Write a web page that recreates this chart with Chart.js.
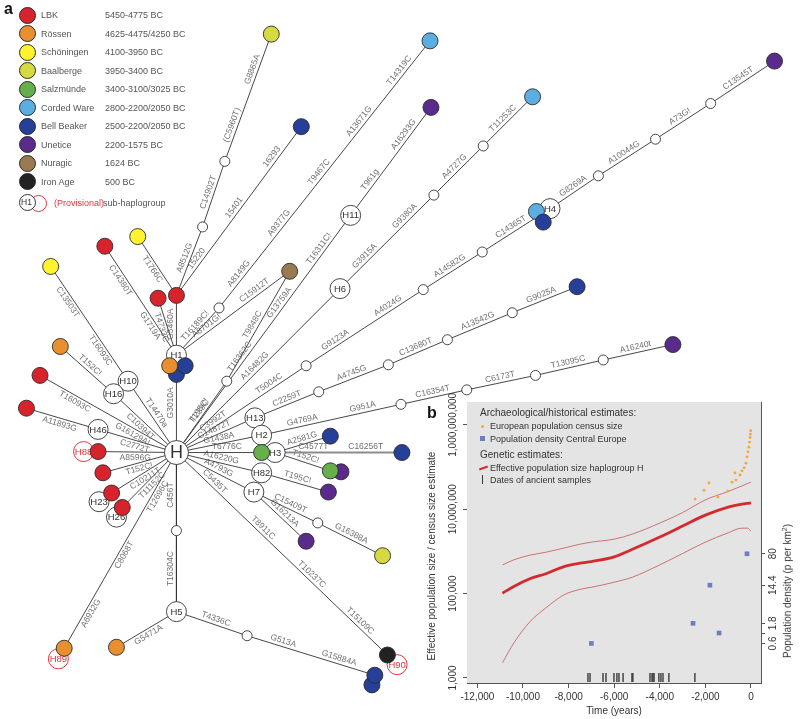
<!DOCTYPE html>
<html>
<head>
<meta charset="utf-8">
<title>Haplogroup H network and population size</title>
<script src="https://cdn.jsdelivr.net/npm/chart.js@4.4.1/dist/chart.umd.min.js"></script>
<style>
  body { margin: 0; background: #fff; }
  #page { position: relative; width: 800px; height: 719px; overflow: hidden; font-family: "Liberation Sans", Arial, sans-serif; color: #444; }
  canvas { position: absolute; }
  #net { left: 0; top: 0; }
  #popb { left: 400px; top: 390px; }
  .t { position: absolute; white-space: nowrap; transform: translateY(-50%); line-height: 1; }
  .rot { position: absolute; white-space: nowrap; line-height: 1; transform: translate(-50%, -50%) rotate(-90deg); }
  .dot { position: absolute; border-radius: 50%; box-sizing: border-box; }
</style>
</head>
<body>
<div id="page">
  <canvas id="net" width="800" height="719"></canvas>
  <canvas id="popb" width="400" height="329"></canvas>
  <div id="overlay"></div>
</div>
<script>
// ---------- panel a: cultures ----------
const cultures = ['LBK', 'Rössen', 'Schöningen', 'Baalberge', 'Salzmünde', 'Corded Ware', 'Bell Beaker', 'Unetice', 'Nuragic', 'Iron Age'];
const cultureDates = ['5450-4775 BC', '4625-4475/4250 BC', '4100-3950 BC', '3950-3400 BC', '3400-3100/3025 BC',
  '2800-2200/2050 BC', '2500-2200/2050 BC', '2200-1575 BC', '1624 BC', '500 BC'];
const cultureColors = ['#d8232c', '#e8902f', '#fff22e', '#d5da40', '#66b04b', '#5caee2', '#263f98', '#5a2a8c', '#9a7a50', '#222222'];

// ---------- panel a: network nodes (x, y in drawing units) ----------
const hubs = [['H', 169, 456], ['H1', 169, 355], ['H10', 119, 382], ['H16', 104, 395], ['H46', 88, 432],
  ['H23', 89, 507], ['H26', 107, 523], ['H11', 349, 210], ['H6', 338, 286], ['H4', 555, 203], ['H13', 250, 420],
  ['H2', 257, 438], ['H3', 271, 456], ['H82', 257, 477], ['H7', 249, 497], ['H5', 169, 621]];
const provisional = [['H88', 73, 455], ['H89', 47, 670], ['H90', 397, 676]];
const medians = [['m1', 196, 222], ['m2', 219, 154], ['m3', 213, 306], ['m4', 221, 382], ['m5', 435, 189],
  ['m6', 486, 138], ['m7', 303, 366], ['m8', 424, 287], ['m9', 485, 248], ['m10', 605, 169], ['m11', 664, 131],
  ['m12', 721, 94], ['m13', 316, 393], ['m14', 388, 365], ['m15', 449, 339], ['m16', 516, 311], ['m17', 401, 406],
  ['m18', 469, 391], ['m19', 540, 376], ['m20', 610, 360], ['m21', 315, 529], ['m22', 169, 537], ['m23', 242, 646]];
// id, x, y, culture index
const samples = [['s1', 267, 22, 3], ['s2', 298, 118, 6], ['s3', 431, 29, 5], ['s4', 432, 98, 7], ['s5', 537, 87, 5],
  ['s6', 787, 50, 7], ['s7', 541, 206, 5], ['s8', 548, 217, 6], ['s9', 129, 232, 2], ['s10', 95, 242, 0],
  ['s11', 39, 263, 2], ['s12', 150, 296, 0], ['s13', 169, 293, 0], ['s14', 286, 268, 8], ['s17', 169, 375, 6],
  ['s16', 178, 366, 6], ['s15', 162, 366, 1], ['s18', 49, 346, 1], ['s19', 28, 376, 0], ['s20', 14, 410, 0],
  ['s21', 88, 455, 0], ['s22', 93, 477, 0], ['s23', 102, 498, 0], ['s24', 113, 513, 0], ['s25', 257, 456, 4],
  ['s26', 583, 284, 6], ['s27', 682, 344, 7], ['s28', 328, 439, 6], ['s29', 402, 456, 6], ['s31', 339, 476, 7],
  ['s30', 328, 475, 4], ['s32', 326, 497, 7], ['s33', 303, 548, 7], ['s34', 382, 563, 3], ['s35', 387, 666, 9],
  ['s36', 107, 658, 1], ['s37', 53, 659, 1], ['s39', 371, 697, 6], ['s38', 374, 687, 6]];

// from, to, mutations (in order from -> to), label side (1 above, -1 below), grey line
const edges = [
  ['H', 'H1', ['G3010A'], 1], ['H1', 's13', ['G5460A'], 1], ['s13', 'm1', ['A8512G'], 1],
  ['m1', 'm2', ['C14902T'], 1], ['m2', 's1', ['(C5960T)', 'G8865A'], 1],
  ['s13', 's2', ['15220', '15401', '16293'], 1], ['s9', 's13', ['T1766C'], -1], ['s12', 'H1', ['T4733C'], -1],
  ['s10', 'H1', ['C14380T', 'G1719A'], -1], ['H1', 'm3', ['T16189C!'], 1],
  ['m3', 's3', ['A8149G', 'A9377G', 'T9467C', 'A13671G', 'T14319C'], 1],
  ['H1', 's14', ['A8701G!', 'C15912T'], 1], ['H', 'm4', ['T195C!'], 1], ['m4', 's14', ['T9848C'], 1],
  ['H', 'H11', ['T239C', 'T16362C', 'G13759A', 'T16311C!'], 1], ['H11', 's4', ['T961g', 'A16293G'], 1],
  ['H', 'H6', ['A16482G'], 1], ['H6', 'm5', ['G3915A', 'G9380A'], 1], ['m5', 'm6', ['A4727G'], 1],
  ['m6', 's5', ['T11253C'], 1], ['H', 'm7', ['C3992T', 'T5004C'], 1], ['m7', 'm8', ['G9123A', 'A4024G'], 1],
  ['m8', 'm9', ['A14582G'], 1], ['m9', 'H4', ['C14365T'], 1], ['H4', 'm10', ['G8269A'], 1],
  ['m10', 'm11', ['A10044G'], 1], ['m11', 'm12', ['A73G!'], 1], ['m12', 's6', ['C13545T'], 1],
  ['H', 'H13', ['C14872T'], 1], ['H13', 'm13', ['C2259T'], 1], ['m13', 'm14', ['A4745G'], 1],
  ['m14', 'm15', ['C13680T'], 1], ['m15', 'm16', ['A13542G'], 1], ['m16', 's26', ['G9025A'], 1],
  ['H', 'H2', ['G1438A'], 1], ['H2', 'm17', ['G4769A', 'G951A'], 1], ['m17', 'm18', ['C16354T'], 1],
  ['m18', 'm19', ['C6173T'], 1], ['m19', 'm20', ['T13095C'], 1], ['m20', 's27', ['A16240t'], 1],
  ['H', 'H3', ['T6776C'], 1], ['H3', 's29', ['C4577T', 'C16256T'], 1, true], ['H3', 's28', ['A2581G'], 1],
  ['H3', 's30', ['T152C!'], 1], ['H', 'H82', ['A16220G'], 1], ['H82', 's32', ['T195C!'], 1],
  ['H', 'H7', ['A4793G'], 1], ['H7', 'm21', ['C15409T'], 1], ['m21', 's34', ['G16388A'], 1],
  ['H7', 's33', ['G16213A'], 1], ['H', 's35', ['C5435T', 'T8911C', 'T10237C', 'T15109C'], 1],
  ['H', 'm22', ['C456T'], 1], ['m22', 'H5', ['T16304C'], 1], ['H5', 's36', ['G5471A'], -1],
  ['H5', 'm23', ['T4336C'], 1], ['m23', 's38', ['G513A', 'G15884A'], 1],
  ['H', 's37', ['T12696C', 'C8068T', 'A6932G'], -1], ['H', 's22', ['T152C!'], -1],
  ['H', 's23', ['C10211T'], -1], ['H', 's24', ['T11152C'], -1], ['H', 's21', ['A8596G'], -1],
  ['H', 'H46', ['C2772T'], -1], ['H46', 's20', ['A11893G'], -1], ['H', 'H16', ['C10394T'], -1],
  ['s18', 'H16', ['T152C!'], 1], ['H', 'H10', ['T14470a'], 1], ['s11', 'H10', ['C13503T', 'T16093C'], -1],
  ['s19', 'H', ['T16093C', 'G16129A!'], -1]
];

// ---------- panel b data ----------
const neTime = [-10900, -10400, -9700, -9000, -8200, -7500, -7000, -6000, -5200, -4000, -3000, -2000, -1000, -400, -150, 0];
const neMedian = [1.02e5, 1.48e5, 2.24e5, 2.95e5, 4.37e5, 5.25e5, 5.75e5, 7.41e5, 1.12e6, 2.19e6, 3.98e6, 7.24e6, 1.12e7, 1.32e7, 1.38e7, 1.41e7];
const neUpper = [4.79e5, 6.31e5, 8.13e5, 9.55e5, 1.2e6, 1.48e6, 1.66e6, 1.95e6, 2.57e6, 4.68e6, 8.32e6, 1.66e7, 2.63e7, 3.55e7, 4.07e7, 4.37e7];
const neLower = [2.29e3, 6.76e3, 2.14e4, 4.57e4, 9.33e4, 1.26e5, 1.41e5, 1.86e5, 2.45e5, 4.79e5, 8.91e5, 1.66e6, 2.75e6, 3.55e6, 3.55e6, 3.02e6];
const censusTime = [-2450, -2060, -1840, -1450, -1010, -830, -700, -660, -480, -400, -300, -220, -170, -130, -90, -60, -40, -25, -10];
const censusSize = [1.74e7, 2.82e7, 4.17e7, 1.95e7, 2.69e7, 4.37e7, 7.24e7, 4.9e7, 6.46e7, 8.13e7, 9.55e7, 1.23e8, 1.74e8, 2.29e8, 2.95e8, 3.89e8, 5.01e8, 6.03e8, 7.24e8];
const densityTime = [-7000, -2540, -1800, -1400, -175];
const density = [0.6, 1.8, 14.4, 1.06, 80];
const sampleDates = [-7150, -7060, -6490, -6360, -6010, -5880, -5790, -5610, -5220, -5180, -4430, -4340, -4300, -4250, -4040, -3950, -3860, -3600, -2460];
const timeTicks = [-12000, -10000, -8000, -6000, -4000, -2000, 0];
const censusTicks = [1e3, 1e5, 1e7, 1e9];
const censusTickLabels = ['1,000', '100,000', '10,000,000', '1,000,000,000'];
const densityTicks = [0.6, 1.06, 1.8, 14.4, 80];
const densityTickLabels = ['0.6', '', '1.8', '14.4', '80'];

const FONT = '"Liberation Sans", Arial, sans-serif';
Chart.defaults.font.family = FONT;

// ---------- html text ----------
const overlay = document.getElementById('overlay');
function txt(s, x, y, size, color, css) {
  const d = document.createElement('div');
  d.className = 't';
  d.innerHTML = s;
  d.style.left = x + 'px';
  d.style.top = y + 'px';
  d.style.fontSize = size + 'px';
  d.style.color = color;
  if (css) Object.assign(d.style, css);
  overlay.appendChild(d);
  return d;
}
function circle(x, y, r, fill, border) {
  const d = document.createElement('div');
  d.className = 'dot';
  Object.assign(d.style, { left: (x - r) + 'px', top: (y - r) + 'px', width: 2 * r + 'px', height: 2 * r + 'px',
    background: fill, border: border });
  overlay.appendChild(d);
  return d;
}

txt('a', 4, 9, 16, '#111', { fontWeight: 'bold' });
cultures.forEach((c, i) => {
  const y = 15 + i * 18.5;
  circle(27, y, 8.5, cultureColors[i], '1px solid #2a2a2a');
  txt(c, 41, y, 9, '#555');
  txt(cultureDates[i], 105, y, 9, '#555');
});
circle(38, 203, 8.5, 'transparent', '1px solid #e0353d');
circle(27, 202, 8.5, '#fff', '1px solid #333');
txt('H1', 21, 202, 8.5, '#333');
txt('(Provisional)', 54, 203, 9, '#e0353d');
txt('sub-haplogroup', 103, 203, 9, '#555');

// ---------- network chart ----------
const nodes = {};
hubs.forEach(([id, x, y]) => { nodes[id] = { x, y, r: id === 'H' ? 12 : 10 }; });
provisional.forEach(([id, x, y]) => { nodes[id] = { x, y, r: 10 }; });
medians.forEach(([id, x, y]) => { nodes[id] = { x, y, r: 5 }; });
samples.forEach(([id, x, y]) => { nodes[id] = { x, y, r: 8 }; });

const edgeSets = edges.map(([a, b, labels, side, grey]) => ({
  data: [{ x: nodes[a].x, y: nodes[a].y }, { x: nodes[b].x, y: nodes[b].y }],
  showLine: true, pointRadius: 0, borderColor: grey ? '#8c8c8c' : '#333', borderWidth: grey ? 2 : 0.9,
  order: 10, edgeLabels: labels, side: side, r0: nodes[a].r, r1: nodes[b].r
}));

const netText = {
  id: 'netText',
  afterDatasetDraw(chart, args) {
    const ds = chart.data.datasets[args.index];
    const ctx = chart.ctx, sx = chart.scales.x, sy = chart.scales.y;
    if (ds.edgeLabels) {
      const x0 = sx.getPixelForValue(ds.data[0].x), y0 = sy.getPixelForValue(ds.data[0].y);
      const x1 = sx.getPixelForValue(ds.data[1].x), y1 = sy.getPixelForValue(ds.data[1].y);
      const dx = x1 - x0, dy = y1 - y0, len = Math.hypot(dx, dy);
      let ang = Math.atan2(dy, dx);
      if (ang > Math.PI / 2 - 0.01) ang -= Math.PI;
      if (ang < -Math.PI / 2 - 0.01) ang += Math.PI;
      const start = ds.r0 + 2, span = len - ds.r0 - ds.r1 - 4;
      ctx.save();
      ctx.font = '8.5px ' + FONT;
      ctx.fillStyle = '#707070';
      ctx.textAlign = 'center';
      ctx.textBaseline = ds.side > 0 ? 'bottom' : 'top';
      ds.edgeLabels.forEach((lab, i) => {
        const d = start + span * (i + 0.5) / ds.edgeLabels.length;
        ctx.save();
        ctx.translate(x0 + dx / len * d, y0 + dy / len * d);
        ctx.rotate(ang);
        ctx.fillText(lab, 0, ds.side > 0 ? -1.5 : 1.5);
        ctx.restore();
      });
      ctx.restore();
    }
    if (ds.names) {
      ctx.save();
      ctx.textAlign = 'center';
      ctx.textBaseline = 'middle';
      ctx.fillStyle = ds.nameColor;
      ds.names.forEach((n, i) => {
        ctx.font = (n === 'H' ? '18px ' : '9.5px ') + FONT;
        ctx.fillText(n, sx.getPixelForValue(ds.data[i].x), sy.getPixelForValue(ds.data[i].y) + 0.5);
      });
      ctx.restore();
    }
  }
};

new Chart(document.getElementById('net'), {
  type: 'scatter',
  data: {
    datasets: [
      ...edgeSets,
      { data: medians.map(m => ({ x: m[1], y: m[2] })), pointRadius: 5, pointBackgroundColor: '#fff',
        pointBorderColor: '#333', pointBorderWidth: 0.9, order: 5 },
      { data: hubs.map(h => ({ x: h[1], y: h[2] })), pointRadius: hubs.map(h => h[0] === 'H' ? 12 : 10),
        pointBackgroundColor: '#fff', pointBorderColor: '#333', pointBorderWidth: 0.9, order: 4,
        names: hubs.map(h => h[0]), nameColor: '#333' },
      { data: provisional.map(h => ({ x: h[1], y: h[2] })), pointRadius: 10, pointBackgroundColor: '#fff',
        pointBorderColor: '#e0353d', pointBorderWidth: 1, order: 3,
        names: provisional.map(h => h[0]), nameColor: '#e0353d' },
      { data: samples.map(s => ({ x: s[1], y: s[2] })), pointRadius: 8,
        pointBackgroundColor: samples.map(s => cultureColors[s[3]]), pointBorderColor: '#2b2b2b',
        pointBorderWidth: 0.9, order: 1 }
    ]
  },
  options: {
    responsive: false, animation: false, events: [],
    layout: { padding: 0 },
    plugins: { legend: { display: false }, tooltip: { enabled: false } },
    scales: {
      x: { type: 'linear', min: 0, max: 800, display: false },
      y: { type: 'linear', min: 0, max: 719, reverse: true, display: false }
    }
  },
  plugins: [netText]
});

// ---------- panel b ----------
const densityOffset = 10965; // aligns the density axis with the census axis
const yMin = 760, yMax = 3.47e9;

const panelB = {
  id: 'panelB',
  beforeDraw(chart) {
    const { ctx, chartArea: a } = chart;
    ctx.save();
    ctx.fillStyle = '#e4e4e4';
    ctx.fillRect(a.left, a.top, a.right - a.left, a.bottom - a.top);
    ctx.restore();
  },
  afterDraw(chart) {
    const ctx = chart.ctx, y = chart.scales.y, y2 = chart.scales.y2;
    ctx.save();
    ctx.font = '10px ' + FONT;
    ctx.fillStyle = '#333';
    ctx.textAlign = 'center';
    ctx.textBaseline = 'middle';
    censusTicks.forEach((v, i) => {
      ctx.save();
      ctx.translate(y.right - 14, y.getPixelForValue(v));
      ctx.rotate(-Math.PI / 2);
      ctx.fillText(censusTickLabels[i], 0, 0);
      ctx.restore();
    });
    densityTicks.forEach((v, i) => {
      ctx.save();
      ctx.translate(y2.left + 12, y2.getPixelForValue(v));
      ctx.rotate(-Math.PI / 2);
      ctx.fillText(densityTickLabels[i], 0, 0);
      ctx.restore();
    });
    ctx.restore();
  }
};

const toXY = (xs, ys) => xs.map((t, i) => ({ x: t, y: ys[i] }));

new Chart(document.getElementById('popb'), {
  type: 'line',
  data: {
    datasets: [
      { data: toXY(densityTime, density), yAxisID: 'y2', showLine: false, pointStyle: 'rect', pointRadius: 3.3,
        pointBackgroundColor: '#6c7ec0', pointBorderWidth: 0 },
      { data: toXY(censusTime, censusSize), showLine: false, pointRadius: 1.4,
        pointBackgroundColor: '#f2a634', pointBorderWidth: 0 },
      { data: toXY(neTime, neMedian), borderColor: '#d42a2e', borderWidth: 2.8, pointRadius: 0,
        cubicInterpolationMode: 'monotone' },
      { data: toXY(neTime, neUpper), borderColor: '#c65656', borderWidth: 0.8, pointRadius: 0,
        cubicInterpolationMode: 'monotone' },
      { data: toXY(neTime, neLower), borderColor: '#c65656', borderWidth: 0.8, pointRadius: 0,
        cubicInterpolationMode: 'monotone' },
      { data: sampleDates.map(t => ({ x: t, y: 1030 })), showLine: false, pointStyle: 'line', pointRotation: 90,
        pointRadius: 4.5, pointBorderColor: '#3a3a3a', pointBorderWidth: 1.4 }
    ]
  },
  options: {
    responsive: false, animation: false, events: [],
    layout: { padding: { top: 12, left: 0, right: 0, bottom: 0 } },
    plugins: { legend: { display: false }, tooltip: { enabled: false } },
    scales: {
      x: {
        type: 'linear', min: -12456, max: 440,
        afterBuildTicks: s => { s.ticks = timeTicks.map(v => ({ value: v })); },
        ticks: { callback: v => v.toLocaleString('en-US'), font: { size: 10 }, color: '#333', padding: 3, maxRotation: 0 },
        grid: { drawOnChartArea: false, tickLength: 5, color: '#555' },
        border: { color: '#555' },
        title: { display: true, text: 'Time (years)', font: { size: 10 }, color: '#333', padding: { top: 0, bottom: 2 } },
        afterFit: s => { s.height = 36; }
      },
      y: {
        type: 'logarithmic', position: 'left', min: yMin, max: yMax,
        afterBuildTicks: s => { s.ticks = censusTicks.map(v => ({ value: v })); },
        ticks: { display: false },
        grid: { drawOnChartArea: false, tickLength: 4, color: '#555' },
        border: { display: false },
        afterFit: s => { s.width = 67; }
      },
      y2: {
        type: 'logarithmic', position: 'right', min: yMin / densityOffset, max: yMax / densityOffset,
        afterBuildTicks: s => { s.ticks = densityTicks.map(v => ({ value: v })); },
        ticks: { display: false },
        grid: { drawOnChartArea: false, tickLength: 4, color: '#555' },
        border: { display: true, color: '#555' },
        afterFit: s => { s.width = 39; }
      }
    }
  },
  plugins: [panelB]
});

// panel b labels and legend
txt('b', 427, 413, 16, '#111', { fontWeight: 'bold' });
const lt = document.createElement('div');
lt.className = 'rot';
Object.assign(lt.style, { left: '432px', top: '556px', fontSize: '10px', color: '#333' });
lt.textContent = 'Effective population size / census size estimate';
overlay.appendChild(lt);
const rt = document.createElement('div');
rt.className = 'rot';
Object.assign(rt.style, { left: '787px', top: '591px', fontSize: '10px', color: '#333' });
rt.innerHTML = 'Population density (p per km<sup style="font-size:7px">2</sup>)';
overlay.appendChild(rt);

txt('Archaeological/historical estimates:', 480, 413, 10, '#333');
circle(482, 426, 1.5, '#f2a634', 'none');
txt('European population census size', 490, 426, 9, '#333');
const sq = document.createElement('div');
Object.assign(sq.style, { position: 'absolute', left: '480px', top: '436px', width: '5px', height: '5px', background: '#6c7ec0' });
overlay.appendChild(sq);
txt('Population density Central Europe', 490, 439, 9, '#333');
txt('Genetic estimates:', 480, 455, 10, '#333');
const rl = document.createElement('div');
Object.assign(rl.style, { position: 'absolute', left: '479px', top: '467px', width: '9px', height: '2px', background: '#d42a2e', transform: 'rotate(-20deg)' });
overlay.appendChild(rl);
txt('Effective population size haplogroup H', 490, 468, 9, '#333');
const tk = document.createElement('div');
Object.assign(tk.style, { position: 'absolute', left: '482px', top: '475px', width: '1.3px', height: '9px', background: '#3a3a3a' });
overlay.appendChild(tk);
txt('Dates of ancient samples', 490, 480, 9, '#333');
</script>
</body>
</html>
